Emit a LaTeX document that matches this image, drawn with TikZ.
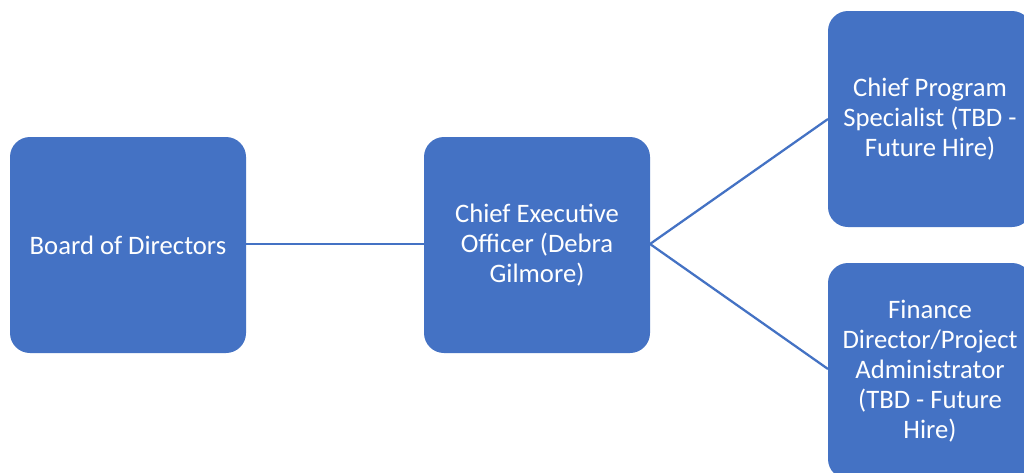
\documentclass[tikz,border=0pt]{standalone}
\usepackage{fontspec}
\setmainfont{Carlito}
\definecolor{boxblue}{HTML}{4472C4}
\definecolor{lineblue}{HTML}{4472C4}
\tikzset{
  orgbox/.style={fill=boxblue, draw=none, rounded corners=15pt, text=white, align=center,
    font=\fontsize{20}{22.5}\selectfont, inner sep=0pt},
  link/.style={draw=lineblue, line width=1.7pt}
}
\begin{document}
\begin{tikzpicture}[x=0.75pt,y=-0.75pt]
\useasboundingbox (0,0) rectangle (1024,472);
\clip (0,0) rectangle (1024,472);
\fill[white] (0,0) rectangle (1024,472);
\node[orgbox, minimum width=177pt, minimum height=162pt] (board) at (128,245) {Board of Directors};
\node[orgbox, minimum width=169.5pt, minimum height=162pt] (ceo) at (537,245) {Chief Executive\\Officer (Debra\\Gilmore)};
\node[orgbox, minimum width=153pt, minimum height=162pt] (cps) at (930,119) {Chief Program\\Specialist (TBD -\\Future Hire)};
\node[orgbox, minimum width=153pt, minimum height=162pt] (fin) at (930,371) {Finance\\Director/Project\\Administrator\\(TBD - Future\\Hire)};
\coordinate (ceoR) at (650,244);
\draw[link] (board.east |- ceoR) -- (ceo.west |- ceoR);
\draw[link] (ceoR) -- (828,119);
\draw[link] (ceoR) -- (828,369);
\end{tikzpicture}
\end{document}
